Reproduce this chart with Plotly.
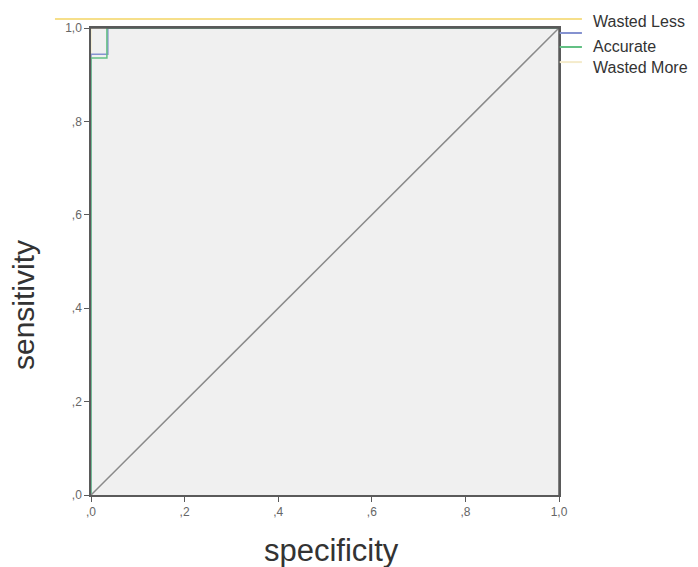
import plotly.graph_objects as go

tick_vals = [0, 0.2, 0.4, 0.6, 0.8, 1.0]
tick_text = [",0", ",2", ",4", ",6", ",8", "1,0"]

more_x = [0, 0, 1]
more_y = [0, 1, 1]
less_x = [0, 0, 0.036, 0.036, 1]
less_y = [0, 0.944, 0.944, 1, 1]
acc_x = [0, 0, 0.034, 0.034, 1]
acc_y = [0, 0.936, 0.936, 1, 1]
ref_x = [0, 1]
ref_y = [0, 1]

legend_names = ["Wasted Less", "Accurate", "Wasted More"]
C_YELLOW = "#f6df8a"
C_BLUE = "#8592d0"
C_GREEN = "#63c084"
C_PALE = "#f4ebcb"
FONT = "Liberation Sans, Arial, sans-serif"

fig = go.Figure()
fig.add_trace(go.Scatter(x=more_x, y=more_y, mode="lines", line=dict(color=C_PALE, width=1.5), showlegend=False))
fig.add_trace(go.Scatter(x=less_x, y=less_y, mode="lines", line=dict(color=C_BLUE, width=1.5), showlegend=False))
fig.add_trace(go.Scatter(x=acc_x, y=acc_y, mode="lines", line=dict(color=C_GREEN, width=1.5), showlegend=False))
fig.add_trace(go.Scatter(x=ref_x, y=ref_y, mode="lines", line=dict(color="#8a8a8a", width=1.5), showlegend=False))

axis_common = dict(
    range=[0, 1], tickvals=tick_vals, ticktext=tick_text, showgrid=False, zeroline=False,
    showline=True, linecolor="#5a5a5a", linewidth=1.5, mirror=True,
    ticks="outside", ticklen=5, tickcolor="#5a5a5a", automargin=False,
    tickfont=dict(family=FONT, size=12, color="#666666"),
)
fig.update_xaxes(**axis_common)
fig.update_yaxes(**axis_common)

# legend drawn manually (line glitch as in the reference)
shapes = [
    dict(type="line", xref="paper", yref="paper", x0=-0.077, x1=1.049, y0=1.0193, y1=1.0193,
         line=dict(color=C_YELLOW, width=2)),
    dict(type="line", xref="paper", yref="paper", x0=1.0, x1=1.049, y0=0.9893, y1=0.9893,
         line=dict(color=C_BLUE, width=2)),
    dict(type="line", xref="paper", yref="paper", x0=1.0, x1=1.049, y0=0.9593, y1=0.9593,
         line=dict(color=C_GREEN, width=2)),
    dict(type="line", xref="paper", yref="paper", x0=1.0, x1=1.049, y0=0.927, y1=0.927,
         line=dict(color=C_PALE, width=2)),
    # top and right frame drawn above the curves
    dict(type="line", xref="paper", yref="paper", x0=0, x1=1, y0=1, y1=1,
         line=dict(color="#5a5a5a", width=1.5), layer="above"),
    dict(type="line", xref="paper", yref="paper", x0=1, x1=1, y0=0, y1=1,
         line=dict(color="#5a5a5a", width=1.5), layer="above"),
]
annotations = []
for name, yy in zip(legend_names, [1.0130, 0.9595, 0.9145]):
    annotations.append(dict(text=name, xref="paper", yref="paper", x=1.068, y=yy, xanchor="left", yanchor="middle",
                            showarrow=False, font=dict(family=FONT, size=16, color="#333333")))
# axis titles
annotations.append(dict(text="specificity", xref="paper", yref="paper", x=0.513, y=-0.118, xanchor="center",
                        yanchor="middle", showarrow=False, font=dict(family=FONT, size=31, color="#333333")))
annotations.append(dict(text="sensitivity", xref="paper", yref="paper", x=-0.143, y=0.407, xanchor="center",
                        yanchor="middle", textangle=-90, showarrow=False,
                        font=dict(family=FONT, size=30, color="#333333")))

fig.update_layout(
    width=690, height=559,
    margin=dict(l=83, r=139, t=20, b=72),
    paper_bgcolor="white", plot_bgcolor="#f0f0f0",
    shapes=shapes, annotations=annotations, showlegend=False,
)
fig.write_html("out.html")
